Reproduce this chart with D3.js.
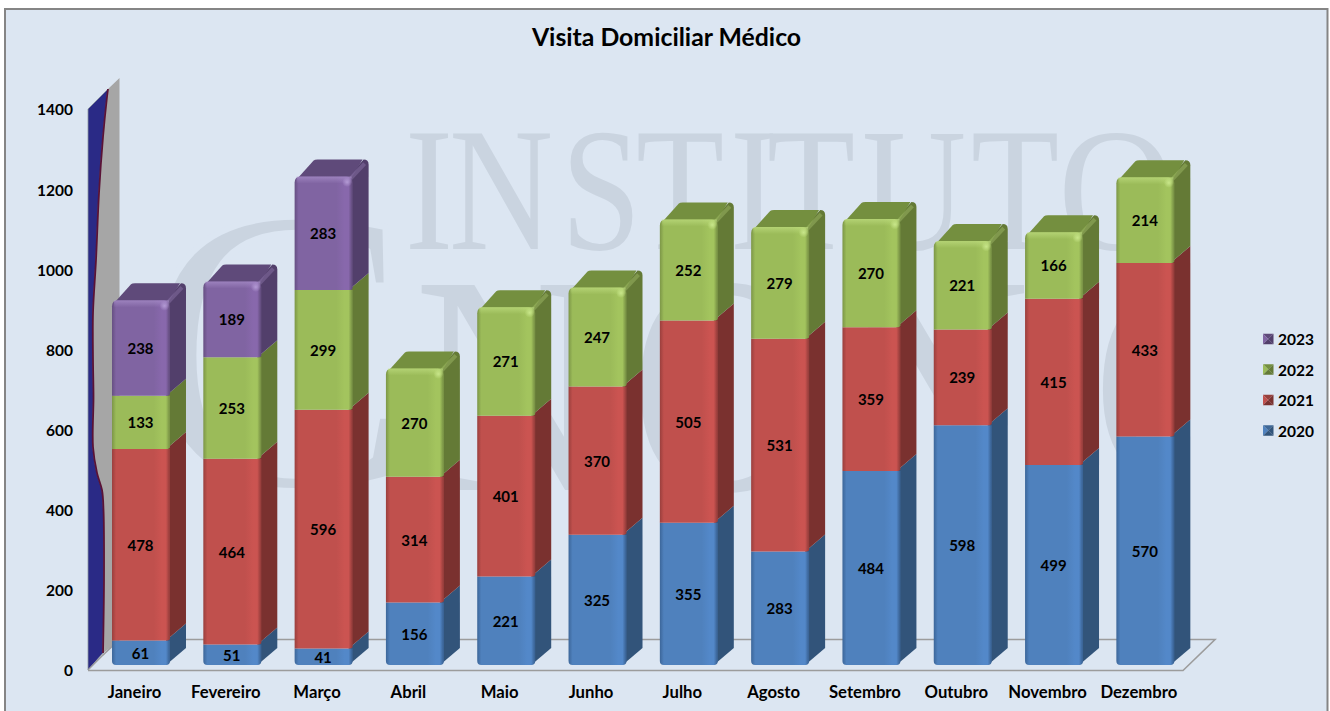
<!DOCTYPE html>
<html lang="pt">
<head>
<meta charset="utf-8">
<title>Visita Domiciliar Médico</title>
<script src="https://cdn.jsdelivr.net/npm/d3@7"></script>
<style>
html,body{margin:0;padding:0;background:#fff;overflow:hidden}
svg{display:block}
text{font-family:Lato,"Open Sans",sans-serif;font-weight:700;fill:#000}
</style>
</head>
<body>
<svg id="chart" width="1330" height="711"></svg>
<script>
// ---- data ----
const titleText = "Visita Domiciliar Médico";
const categories = ["Janeiro","Fevereiro","Março","Abril","Maio","Junho","Julho","Agosto","Setembro","Outubro","Novembro","Dezembro"];
const seriesNames = ["2020","2021","2022","2023"];
const values2020 = [61,51,41,156,221,325,355,283,484,598,499,570];
const values2021 = [478,464,596,314,401,370,505,531,359,239,415,433];
const values2022 = [133,253,299,270,271,247,252,279,270,221,166,214];
const values2023 = [238,189,283,0,0,0,0,0,0,0,0,0];
const yTicks = [0,200,400,600,800,1000,1200,1400];
const seriesColors = {
  "2020":{front:"#4F81BD",light:"#5388C9",dark:"#3C6699",side:"#32547A",top:"#3F6796",glow:"#7FA8DC"},
  "2021":{front:"#C0504D",light:"#CB5451",dark:"#9A3F3D",side:"#7A312F",top:"#96403D",glow:"#E08A88"},
  "2022":{front:"#9BBB59",light:"#A3C45E",dark:"#7C9647",side:"#647A36",top:"#748F3F",glow:"#C8E68A"},
  "2023":{front:"#8064A2",light:"#8868AC",dark:"#664F82",side:"#523F6B",top:"#5F4A7A",glow:"#B39AD4"}
};

// ---- layout ----
const W = 1330, H = 711;
const floorLift = 5, depthX = 16, depthY = 17;
const y = d3.scaleLinear().domain([0,1400]).range([670,109]);
const x = d3.scaleBand().domain(categories).range([95.35,1191]).paddingInner(0.365).paddingOuter(0.1825);

const rows = categories.map((c,i)=>({category:c,"2020":values2020[i],"2021":values2021[i],"2022":values2022[i],"2023":values2023[i]}));
const stacked = d3.stack().keys(seriesNames)(rows);

const svg = d3.select("#chart");
const defs = svg.append("defs");

// gradients for the bevelled fronts
seriesNames.forEach(k=>{
  const c = seriesColors[k];
  const g = defs.append("linearGradient").attr("id","front"+k).attr("x1",0).attr("x2",1).attr("y1",0).attr("y2",0);
  [[0,c.dark],[0.07,c.front],[0.72,c.front],[0.86,c.light],[0.93,c.light],[0.985,c.dark],[1,c.dark]]
    .forEach(s=>g.append("stop").attr("offset",s[0]).attr("stop-color",s[1]));
  const r = defs.append("radialGradient").attr("id","glow"+k);
  r.append("stop").attr("offset",0).attr("stop-color",c.glow).attr("stop-opacity",1);
  r.append("stop").attr("offset",1).attr("stop-color",c.glow).attr("stop-opacity",0);
  const t = defs.append("linearGradient").attr("id","cap"+k).attr("x1",0).attr("x2",0).attr("y1",0).attr("y2",1);
  t.append("stop").attr("offset",0).attr("stop-color",c.glow).attr("stop-opacity",0.55);
  t.append("stop").attr("offset",1).attr("stop-color",c.glow).attr("stop-opacity",0);
});
defs.append("clipPath").attr("id","wmClip").append("rect").attr("x",6).attr("y",10).attr("width",1182).attr("height",640);

// panel
svg.append("rect").attr("x",5).attr("y",9).attr("width",1322.5).attr("height",H+10)
  .attr("fill","#DCE6F2").attr("stroke","#858585").attr("stroke-width",2);

// watermark
const wm = svg.append("g").attr("clip-path","url(#wmClip)").style("pointer-events","none");
const wmStyle = s=>s.style("font-family","'Liberation Serif',serif").style("font-weight",400).style("fill","#CAD4E0");
const wmScale = 0.82;
wm.append("text").text("INSTITUT")
  .attr("x",[0,44,156,231,325,362,457,566].map(v=>v/wmScale).join(" "))
  .attr("transform",`translate(405,249) scale(${wmScale},1)`).attr("font-size",176).call(wmStyle);
wm.append("text").text("O").attr("transform","translate(1058,249) scale(0.92,1)").attr("font-size",176).call(wmStyle);
wm.append("text").text("C").attr("x",141).attr("y",487).attr("font-size",408).call(wmStyle)
  .style("stroke","#DCE6F2").style("stroke-width",6);
[["N",414],["O",630],["N",838],["C",1092]].forEach(p=>{
  wm.append("text").text(p[0]).attr("transform",`translate(${p[1]},490) scale(0.85,1)`).attr("font-size",313).call(wmStyle);
});

// left wall
const waveLine = [[108,89],[107,97],[103,137],[99,193],[96,260],[93,313],[93,360],[93.5,397],[93,447],[97,473],[102,490],[103.5,510],[104,580],[103,653]];
const waveD = d3.line().curve(d3.curveCatmullRom)(waveLine);
svg.append("path").attr("d",`M88,670 L88,109 L108,89 ${waveD.replace(/^M[^CL]*/,"")} Z`)
  .attr("fill","#2A2A86").attr("stroke","#8C94A0").attr("stroke-width",0.8);
svg.append("path").attr("d",`${waveD} L119.5,640 L119.5,78 Z`).attr("fill","#A6A6A6");
svg.append("path").attr("d","M103,653 L119.5,640 L119.5,600 L104,600 Z").attr("fill","#A6A6A6");
svg.append("path").attr("d",waveD).attr("fill","none").attr("stroke","#5A1236").attr("stroke-width",1.8);

// floor
svg.append("path").attr("d","M88,670.5 L1183,670.5 L1215,639.5 L119.5,639.5 L103,655")
  .attr("fill","none").attr("stroke","#9C9C9C").attr("stroke-width",1.6);
svg.append("path").attr("d","M88,670 L104,654").attr("stroke","#9C9C9C").attr("stroke-width",1.2);

// axes
const yAxis = d3.axisLeft(y).tickValues(yTicks).tickSize(0).tickPadding(0).tickFormat(d3.format("d"));
const yG = svg.append("g").attr("transform","translate(73,1)").call(yAxis);
yG.select(".domain").remove();
yG.selectAll("text").style("font-size","15.5px").style("font-family","Lato").attr("fill","#000");

const xAxis = d3.axisBottom(x).tickSize(0).tickPadding(0);
const xG = svg.append("g").attr("transform","translate(-6.5,689)").call(xAxis);
xG.select(".domain").remove();
xG.selectAll("text").style("font-size","16.7px").style("font-family","Lato").attr("fill","#000").attr("dy","0.55em");

// bars
const yb = v => y(v)-floorLift;
const bw = x.bandwidth();
const barsG = svg.append("g");
rows.forEach((row,ri)=>{
  const g = barsG.append("g");
  const x0 = x(row.category), x1 = x0+bw;
  const present = stacked.filter(s=>row[s.key]>0);
  const last = present[present.length-1];
  present.forEach((s,si)=>{
    const d = s[ri], c = seriesColors[s.key];
    const yB = yb(d[0]), yT = yb(d[1]);
    const isTop = s===last, isBottom = si===0;
    // side face
    g.append("path").attr("fill",c.side)
      .attr("d",`M${x1-4},${yB} L${x1+depthX},${yB-depthY} L${x1+depthX},${yT-depthY+(isTop?5:0)}`
        +(isTop?` Q${x1+depthX},${yT-depthY} ${x1+depthX-5},${yT-depthY}`:"")
        +` L${x1-4},${yT} Z`);
    // top face
    if(isTop){
      g.append("path").attr("fill",c.top)
        .attr("d",`M${x0+1},${yT+4} L${x0+19},${yT-depthY+1} Q${x0+20},${yT-depthY} ${x0+23},${yT-depthY} L${x1+depthX-6},${yT-depthY} L${x1-2},${yT+3} L${x1-6},${yT+4} Z`);
      g.append("path").attr("fill","none").attr("stroke",c.glow).attr("stroke-opacity",0.28).attr("stroke-width",4)
        .attr("d",`M${x1-3},${yT+3} L${x1+depthX-4},${yT-depthY+4}`);
    }
    // front face
    const rT = isTop?6:0, rB = isBottom?4:0;
    const chamfer = 4;
    g.append("path").attr("fill",`url(#front${s.key})`)
      .attr("d",`M${x0},${yT+rT} Q${x0},${yT} ${x0+rT},${yT} L${x1-rT},${yT} Q${x1},${yT} ${x1},${yT+rT}`
        +` L${x1},${yB-Math.max(rB,2)} Q${x1},${yB} ${x1-chamfer},${yB} L${x0+rB},${yB} Q${x0},${yB} ${x0},${yB-rB} Z`);
    if(isTop){
      g.append("rect").attr("x",x0+2).attr("y",yT).attr("width",bw-3).attr("height",7).attr("fill",`url(#cap${s.key})`);
      g.append("circle").attr("cx",x1-5.5).attr("cy",yT+5.5).attr("r",5).attr("fill",`url(#glow${s.key})`);
    }
  });
});

// value labels
const labelG = svg.append("g");
stacked.forEach(s=>{
  labelG.selectAll(null).data(s.filter(d=>d[1]-d[0]>0)).join("text")
    .attr("x",d=>x(d.data.category)+bw/2-0.5)
    .attr("y",d=>(yb(d[0])+yb(d[1]))/2)
    .attr("text-anchor","middle").attr("dominant-baseline","central")
    .style("font-size","15px")
    .text(d=>d[1]-d[0]);
});

// title
svg.append("text").text(titleText).attr("x",666.5).attr("y",36).attr("text-anchor","middle")
  .attr("dominant-baseline","central").style("font-size","24.8px");

// legend
const legendOrder = seriesNames.slice().reverse();
const legendY = d3.scalePoint().domain(legendOrder).range([339,430.5]);
const lg = svg.append("g");
legendOrder.forEach(k=>{
  const c = seriesColors[k], cy = legendY(k), xa = 1263, s = 10.5, ya = cy-s/2, xm = xa+s/2;
  const tri = (pts,f)=>lg.append("polygon").attr("points",pts.map(p=>p.join(",")).join(" ")).attr("fill",f);
  tri([[xa,ya],[xa+s,ya],[xm,cy]],c.top);
  tri([[xa,ya],[xm,cy],[xa,ya+s]],c.front);
  tri([[xa+s,ya],[xa+s,ya+s],[xm,cy]],c.side);
  tri([[xa,ya+s],[xa+s,ya+s],[xm,cy]],c.side);
  lg.append("text").text(k).attr("x",1278).attr("y",cy).attr("dominant-baseline","central").style("font-size","15.5px");
});
</script>
</body>
</html>
